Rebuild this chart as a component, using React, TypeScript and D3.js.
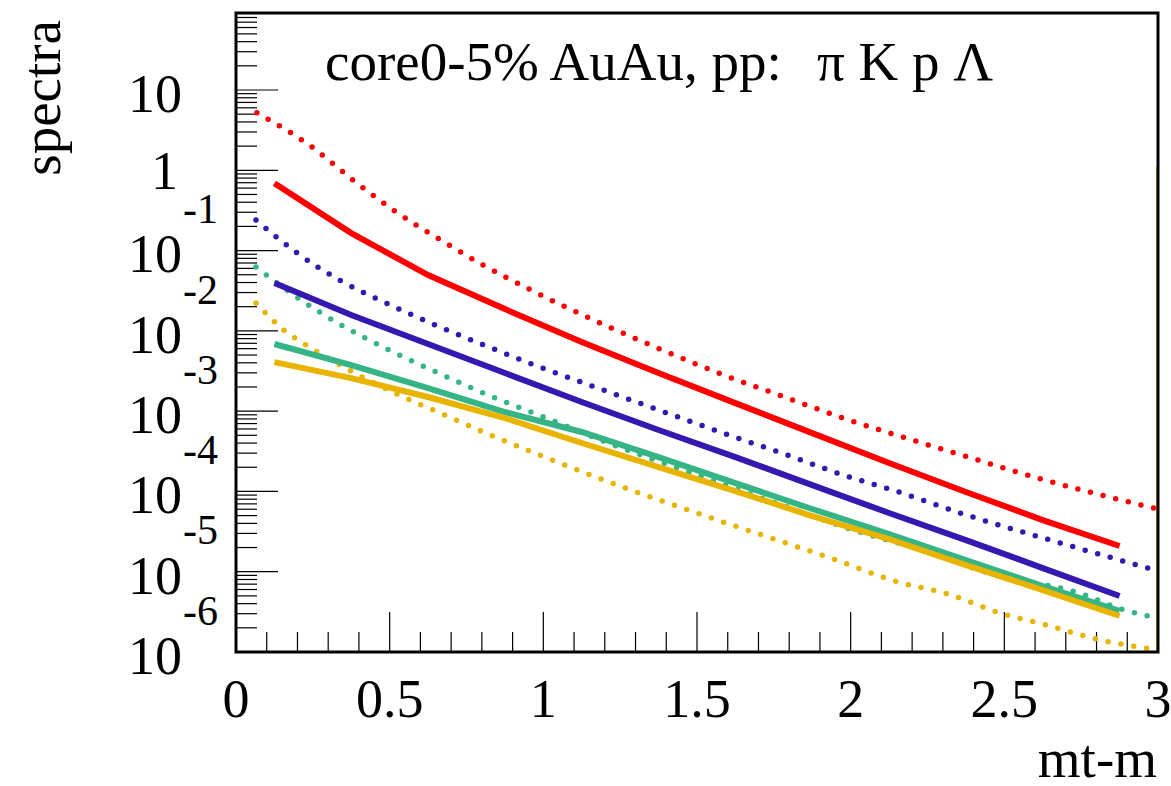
import React from "react";
import * as d3 from "d3";

const W = 1171;
const H = 786;

// bin centres of the solid (histogram) curves
const binCenters = [0.125, 0.375, 0.625, 0.875, 1.125, 1.375, 1.625, 1.875, 2.125, 2.375, 2.625, 2.875];

// solid curves (core 0-5% AuAu)
const piSolid = [0.69, 0.165, 0.0495, 0.01866, 7.26e-3, 2.98e-3, 1.26e-3, 5.33e-4, 2.26e-4, 9.84e-5, 4.4e-5, 2.09e-5];
const kSolid = [0.0394, 0.01574, 6.86e-3, 2.98e-3, 1.3e-3, 5.82e-4, 2.68e-4, 1.2e-4, 5.38e-5, 2.48e-5, 1.11e-5, 4.98e-6];
const pSolid = [6.86e-3, 3.75e-3, 1.94e-3, 9.75e-4, 5.5e-4, 2.68e-4, 1.27e-4, 6.04e-5, 2.95e-5, 1.4e-5, 6.64e-6, 3.25e-6];
const lamSolid = [4.08e-3, 2.58e-3, 1.5e-3, 8.2e-4, 4.01e-4, 2.01e-4, 1.01e-4, 4.94e-5, 2.55e-5, 1.21e-5, 5.91e-6, 2.81e-6];

// dotted curves (pp)
const piDotX = [0.068, 0.247, 0.381, 0.517, 0.661, 0.804, 0.953, 1.185, 1.38, 1.578, 1.777, 1.975, 2.18, 2.382, 2.584, 2.789, 3.0];
const piDotY = [5.2, 1.95, 0.755, 0.31, 0.139, 0.066, 0.0332, 0.0125, 5.93e-3, 2.9e-3, 1.54e-3, 8.2e-4, 4.62e-4, 2.68e-4, 1.56e-4, 9.55e-5, 6.04e-5];
const kDotX = [0.065, 0.199, 0.342, 0.495, 0.648, 0.807, 0.963, 1.204, 1.403, 1.604, 1.803, 1.966, 2.167, 2.366, 2.571, 2.773, 3.0];
const kDotY = [0.24, 0.0931, 0.0417, 0.0216, 0.0118, 6.65e-3, 3.86e-3, 1.78e-3, 9.46e-4, 5.04e-4, 2.76e-4, 1.65e-4, 9.55e-5, 5.24e-5, 3.03e-5, 1.81e-5, 1.02e-5];
const pDotX = [0.065, 0.202, 0.348, 0.498, 0.651, 0.843, 1.002, 1.162, 1.52, 1.757, 1.998, 2.242, 2.483, 2.734, 2.89, 3.0];
const pDotY = [0.0624, 0.0256, 0.01148, 5.77e-3, 3.07e-3, 1.46e-3, 8.45e-4, 4.75e-4, 1.51e-4, 7.18e-5, 3.4e-5, 1.81e-5, 8.83e-6, 5.58e-6, 3.33e-6, 2.65e-6];
const lamDotX = [0.065, 0.156, 0.228, 0.299, 0.374, 0.524, 0.68, 0.836, 0.996, 1.23, 1.471, 1.712, 1.952, 2.154, 2.317, 2.476, 2.636, 2.799, 3.0];
const lamDotY = [0.0222, 0.01023, 6.65e-3, 4.58e-3, 3.16e-3, 1.63e-3, 8.93e-4, 4.9e-4, 2.76e-4, 1.24e-4, 5.86e-5, 2.86e-5, 1.4e-5, 7.45e-6, 5.27e-6, 3.15e-6, 2.17e-6, 1.45e-6, 1.06e-6];

const xTickLabels = ["0", "0.5", "1", "1.5", "2", "2.5", "3"];
const yDecades = [-6, -5, -4, -3, -2, -1, 0, 1];

const titleMain = "core0-5% AuAu, pp:";
const titleParticles = "π K p Λ";
const xTitle = "mt-m";
const yTitle = "spectra";

const colors = { pi: "#ff0000", k: "#3418b0", p: "#35b585", lam: "#e8b400" };

const FONT = "'Liberation Serif', 'Times New Roman', serif";

export default function App() {
  const left = 236, right = 1158, top = 13, bottom = 652;
  const x = d3.scaleLinear().domain([0, 3]).range([left, right]);
  const y = d3.scaleLog().domain([1e-6, 91]).range([bottom, top]);

  const solidLine = d3.line<[number, number]>().x((d) => x(d[0])).y((d) => y(d[1]));
  const dotLine = d3
    .line<[number, number]>()
    .x((d) => x(d[0]))
    .y((d) => y(d[1]))
    .curve(d3.curveMonotoneX);

  const zip = (a: number[], b: number[]) => a.map((v, i) => [v, b[i]] as [number, number]);

  const solids = [
    { d: zip(binCenters, piSolid), c: colors.pi },
    { d: zip(binCenters, kSolid), c: colors.k },
    { d: zip(binCenters, pSolid), c: colors.p },
    { d: zip(binCenters, lamSolid), c: colors.lam },
  ];
  const dots = [
    { d: zip(piDotX, piDotY), c: colors.pi },
    { d: zip(kDotX, kDotY), c: colors.k },
    { d: zip(pDotX, pDotY), c: colors.p },
    { d: zip(lamDotX, lamDotY), c: colors.lam },
  ];

  const yMajor = yDecades.map((k) => Math.pow(10, k));
  const yMinor: number[] = [];
  yDecades.forEach((k) => {
    for (let m = 2; m <= 9; m++) {
      const v = m * Math.pow(10, k);
      if (v <= 91) yMinor.push(v);
    }
  });

  const xTicks: { v: number; major: boolean }[] = [];
  for (let i = 1; i < 30; i++) xTicks.push({ v: i / 10, major: i % 5 === 0 });

  return (
    <svg
      width={W}
      height={H}
      viewBox={`0 0 ${W} ${H}`}
      style={{ position: "absolute", left: 0, top: 0, background: "#fff" }}
      fontFamily={FONT}
    >
      <rect x={0} y={0} width={W} height={H} fill="#fff" />
      <defs>
        <clipPath id="plotclip">
          <rect x={left} y={top} width={right - left + 3} height={bottom - top + 3} />
        </clipPath>
      </defs>

      {yMajor.map((v, i) => (
        <line key={"ym" + i} x1={left} x2={left + 42} y1={y(v)} y2={y(v)} stroke="#000" strokeWidth={1.2} />
      ))}
      {yMinor.map((v, i) => (
        <line key={"yn" + i} x1={left} x2={left + 21} y1={y(v)} y2={y(v)} stroke="#000" strokeWidth={1.2} />
      ))}
      {xTicks.map((t, i) => (
        <line
          key={"xt" + i}
          x1={x(t.v)}
          x2={x(t.v)}
          y1={bottom}
          y2={bottom - (t.major ? 40 : 20)}
          stroke="#000"
          strokeWidth={1.2}
        />
      ))}

      <g clipPath="url(#plotclip)">
        {dots.map((s, i) => (
          <path
            key={"d" + i}
            d={dotLine(s.d) || ""}
            fill="none"
            stroke={s.c}
            strokeWidth={5.5}
            strokeLinecap="round"
            strokeDasharray="0 13"
          />
        ))}
        {solids.map((s, i) => (
          <path key={"s" + i} d={solidLine(s.d) || ""} fill="none" stroke={s.c} strokeWidth={6} />
        ))}
      </g>

      <line x1={right - 1.5} x2={right - 1.5} y1={167} y2={bottom} stroke={colors.lam} strokeWidth={1} />

      <rect x={left} y={top} width={right - left} height={bottom - top} fill="none" stroke="#000" strokeWidth={3} />

      {xTickLabels.map((t, i) => (
        <text key={"xl" + i} x={x(+t)} y={717} textAnchor="middle" fontSize={54} fill="#000">
          {t}
        </text>
      ))}

      {yDecades.map((k) => {
        const yy = y(Math.pow(10, k));
        if (k === 0)
          return (
            <text key={"yl" + k} x={178} y={yy} dy="0.35em" textAnchor="end" fontSize={54} fill="#000">
              1
            </text>
          );
        if (k === 1)
          return (
            <text key={"yl" + k} x={182} y={yy + 3} dy="0.35em" textAnchor="end" fontSize={54} fill="#000">
              10
            </text>
          );
        return (
          <g key={"yl" + k}>
            <text x={182} y={yy + 3} dy="0.35em" textAnchor="end" fontSize={54} fill="#000">
              10
            </text>
            <text x={183} y={yy - 42} dy="0.35em" textAnchor="start" fontSize={42} fill="#000">
              {String(k)}
            </text>
          </g>
        );
      })}

      <text x={325} y={80} fontSize={55} fill="#000">
        {titleMain}
      </text>
      <text x={817} y={80} fontSize={55} fill="#000" style={{ whiteSpace: "pre" }}>
        {titleParticles}
      </text>
      <text x={1157} y={777} textAnchor="end" fontSize={55} fill="#000">
        {xTitle}
      </text>
      <text transform={`translate(60,20) rotate(-90)`} textAnchor="end" fontSize={55} fill="#000">
        {yTitle}
      </text>
    </svg>
  );
}
